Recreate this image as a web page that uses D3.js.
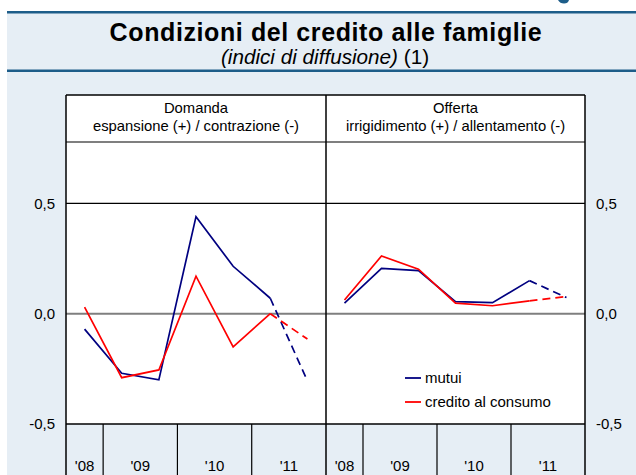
<!DOCTYPE html>
<html><head><meta charset="utf-8">
<script src="https://cdn.jsdelivr.net/npm/d3@7"></script>
<style>
html,body{margin:0;padding:0;background:#fff;}
svg{display:block;font-family:"Liberation Sans",Arial,sans-serif;}
</style></head>
<body>
<svg id="c" width="636" height="475"></svg>
<script>
// ---- data ----
const halves = ["II-08","I-09","II-09","I-10","II-10","I-11","II-11"];
const yearLabels = ["'08","'09","'10","'11"];
const yearHalves = [["II-08"],["I-09","II-09"],["I-10","II-10"],["I-11","II-11"]];
const domandaMutui    = [-0.07, -0.27, -0.30, 0.44, 0.215, 0.07, -0.305];
const domandaCredito  = [0.03, -0.29, -0.255, 0.17, -0.15, 0.0, -0.115];
const offertaMutui    = [0.048, 0.205, 0.195, 0.055, 0.05, 0.15, 0.073];
const offertaCredito  = [0.062, 0.262, 0.202, 0.048, 0.036, 0.058, 0.078];
const yTicks = [-0.5, 0, 0.5];
const panelTitles = [["Domanda","espansione (+) / contrazione (-)"],["Offerta","irrigidimento (+) / allentamento (-)"]];
const seriesNames = ["mutui","credito al consumo"];

const BLUE = "#000080", RED = "#ff0000", BG = "#e6eef5", DARK = "#1d5d89";

const svg = d3.select("#c");
// background
svg.append("rect").attr("x",7).attr("y",12).attr("width",629).attr("height",463).attr("fill",BG);
// remnant of a cut-off heading glyph at top right
svg.append("path").attr("d","M558,0 Q560,3.5 564,3.5 Q568,3.5 569,0 Z").attr("fill",DARK);
svg.append("rect").attr("x",7).attr("y",11).attr("width",629).attr("height",2.5).attr("fill",DARK);
svg.append("rect").attr("x",7).attr("y",69.5).attr("width",629).attr("height",2.5).attr("fill",DARK);

svg.append("text").attr("x",326).attr("y",41).attr("text-anchor","middle")
  .attr("font-size",25).attr("font-weight","bold").attr("letter-spacing","0.6px").attr("fill","#000")
  .text("Condizioni del credito alle famiglie");
const sub = svg.append("text").attr("x",325).attr("y",64).attr("text-anchor","middle").attr("font-size",20.7).attr("fill","#000");
sub.append("tspan").attr("font-style","italic").text("(indici di diffusione)");
sub.append("tspan").text(" (1)");

// layout
const L = 66, M = 326, R = 585, TOP = 95, HDR = 142, AXB = 475;
const y = d3.scaleLinear().domain([-0.5,0.5]).range([424,203.4]);
const xL = d3.scaleBand().domain(halves).range([L,M]).padding(0);
const xR = d3.scaleBand().domain(halves).range([M,R]).padding(0);

// plot area white
svg.append("rect").attr("x",L).attr("y",TOP).attr("width",R-L).attr("height",y(-0.5)-TOP).attr("fill","#fff");

// gridlines
yTicks.forEach(t=>{
  if(t===-0.5) return;
  svg.append("line").attr("x1",L).attr("x2",R).attr("y1",y(t)).attr("y2",y(t))
    .attr("stroke", t===0 ? "#7f7f7f" : "#000").attr("stroke-width", t===0 ? 2 : 1.2);
});
// header divider
svg.append("line").attr("x1",L).attr("x2",R).attr("y1",HDR).attr("y2",HDR).attr("stroke","#7f7f7f").attr("stroke-width",2);

// y-axis labels via d3 axes
const fmt = v => d3.format(".1f")(v).replace(".",",").replace("−","-");
const axL = svg.append("g").attr("transform",`translate(${L-11},0)`)
  .call(d3.axisLeft(y).tickValues(yTicks).tickSize(0).tickPadding(0).tickFormat(fmt));
const axR = svg.append("g").attr("transform",`translate(${R+11},0)`)
  .call(d3.axisRight(y).tickValues(yTicks).tickSize(0).tickPadding(0).tickFormat(fmt));
[axL,axR].forEach(a=>{
  a.select(".domain").remove();
  a.selectAll("text").attr("font-size",15).attr("font-family","Liberation Sans, Arial, sans-serif").attr("fill","#000");
});

// panel headers
[[L,M],[M,R]].forEach((p,i)=>{
  const cx=(p[0]+p[1])/2;
  svg.append("text").attr("x",cx).attr("y",113).attr("text-anchor","middle").attr("font-size",14.8).text(panelTitles[i][0]);
  svg.append("text").attr("x",cx).attr("y",131).attr("text-anchor","middle").attr("font-size",14.8).text(panelTitles[i][1]);
});

// lines
const panels = [[xL,domandaMutui,domandaCredito],[xR,offertaMutui,offertaCredito]];
panels.forEach(([x,mu,cr])=>{
  [[mu,BLUE],[cr,RED]].forEach(([vals,col])=>{
    const pts = halves.map((h,i)=>[x(h)+x.bandwidth()/2, y(vals[i])]);
    const line = d3.line();
    svg.append("path").attr("d",line(pts.slice(0,6))).attr("fill","none").attr("stroke",col).attr("stroke-width",1.7).attr("stroke-linejoin","miter");
    svg.append("path").attr("d",line(pts.slice(5))).attr("fill","none").attr("stroke",col).attr("stroke-width",1.7).attr("stroke-dasharray","8,5");
  });
});

// x-axis band area
svg.append("rect").attr("x",L).attr("y",y(-0.5)).attr("width",R-L).attr("height",AXB-y(-0.5)).attr("fill",BG);
[xL,xR].forEach(x=>{
  yearHalves.forEach((hs,k)=>{
    const x0 = x(hs[0]), x1 = x(hs[hs.length-1])+x.bandwidth();
    if(k>0) svg.append("line").attr("x1",x0).attr("x2",x0).attr("y1",y(-0.5)).attr("y2",AXB).attr("stroke","#000").attr("stroke-width",1.2);
    svg.append("text").attr("x",(x0+x1)/2).attr("y",471).attr("text-anchor","middle").attr("font-size",15).text(yearLabels[k]);
  });
});

// frame
svg.append("line").attr("x1",L).attr("x2",R).attr("y1",TOP).attr("y2",TOP).attr("stroke","#000").attr("stroke-width",1.5);
svg.append("line").attr("x1",L).attr("x2",R).attr("y1",y(-0.5)).attr("y2",y(-0.5)).attr("stroke","#000").attr("stroke-width",1.5);
[L,M,R].forEach(xx=>svg.append("line").attr("x1",xx).attr("x2",xx).attr("y1",TOP).attr("y2",AXB).attr("stroke","#000").attr("stroke-width",1.5));

// legend
const lg = svg.append("g").attr("transform","translate(405,0)");
[[BLUE,378],[RED,402]].forEach(([col,ly],i)=>{
  lg.append("line").attr("x1",0).attr("x2",16).attr("y1",ly).attr("y2",ly).attr("stroke",col).attr("stroke-width",1.8);
  lg.append("text").attr("x",20).attr("y",ly+5).attr("font-size",15).text(seriesNames[i]);
});
</script>
</body></html>
